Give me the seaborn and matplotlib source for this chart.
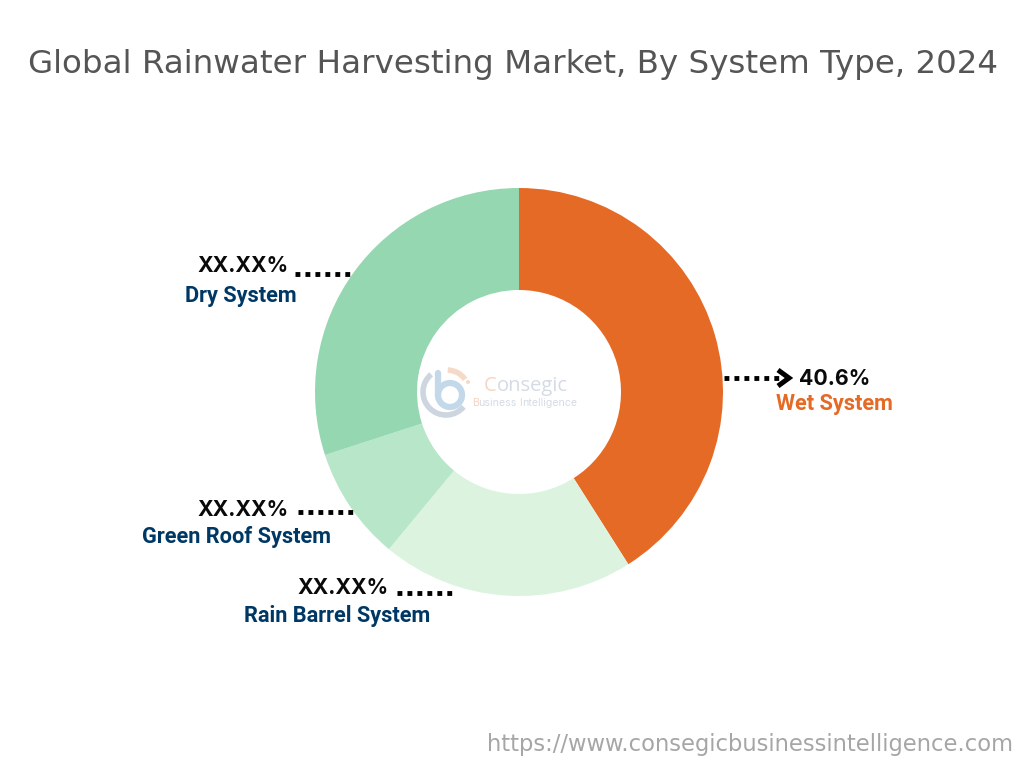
import matplotlib
matplotlib.use("Agg")
import matplotlib.pyplot as plt
from matplotlib.patches import Arc, Circle
import seaborn as sns

categories = ["Wet System", "Rain Barrel System", "Green Roof System", "Dry System"]
shares = [41.0, 20.0, 9.0, 30.0]
labels = ["40.6%", "XX.XX%", "XX.XX%", "XX.XX%"]
colors = ["#E56A26", "#DCF3DF", "#B7E6C8", "#95D7B1"]
title = "Global Rainwater Harvesting Market, By System Type, 2024"
url = "https://www.consegicbusinessintelligence.com"

sns.set_theme(style="white")
plt.rcParams["font.family"] = ["Inter", "DejaVu Sans"]

fig = plt.figure(figsize=(10.24, 7.68), dpi=100, facecolor="white")
ax = fig.add_axes([0, 0, 1, 1])
Y = lambda y: 768 - y

ax.pie(shares, colors=sns.color_palette(colors), startangle=90, counterclock=False,
       center=(519, Y(392)), radius=204, wedgeprops=dict(width=102, linewidth=0), frame=True)
ax.set_xlim(0, 1024)
ax.set_ylim(0, 768)
ax.set_aspect("equal")
ax.axis("off")

ax.text(512.5, Y(65), title, ha="center", va="center", fontsize=23.4, color="#555555",
        family=["DejaVu Sans"])
ax.text(1013, Y(744), url, ha="right", va="center", fontsize=16.3, color="#A6A6A6",
        family=["DejaVu Sans"])

pct_font = dict(fontsize=15.3, fontweight="bold", color="#0A0A0A", va="center")
cat_font = dict(fontsize=15.7, fontweight="bold", va="center", family=["Roboto", "DejaVu Sans"])
dots = dict(color="black", linewidth=3.5, linestyle=(0, (1, 1.05)), dash_capstyle="butt")

ax.text(799, Y(379), labels[0], ha="left", **pct_font)
ax.text(834, Y(404), categories[0], ha="center", color="#E56A26", **cat_font)
ax.plot([724, 784], [Y(378), Y(378)], **dots)
ax.plot([778, 789, 778], [Y(370), Y(378), Y(386)], color="black", linewidth=3.6,
        solid_joinstyle="miter", solid_capstyle="butt")

ax.text(289, Y(266), labels[3], ha="right", **pct_font)
ax.text(241, Y(296), categories[3], ha="center", color="#003865", **cat_font)
ax.plot([295, 350], [Y(274), Y(274)], **dots)

ax.text(289, Y(510), labels[2], ha="right", **pct_font)
ax.text(237, Y(537), categories[2], ha="center", color="#003865", **cat_font)
ax.plot([298, 353], [Y(512), Y(512)], **dots)

ax.text(389, Y(588), labels[1], ha="right", **pct_font)
ax.text(337, Y(616), categories[1], ha="center", color="#003865", **cat_font)
ax.plot([397, 453], [Y(593), Y(593)], **dots)

# faint watermark logo
ax.add_patch(Arc((446, Y(392)), 46, 46, theta1=130, theta2=320, color="#CDD5DF", linewidth=4))
ax.add_patch(Circle((450, Y(395)), 12, fill=False, edgecolor="#C3D9E9", linewidth=4.5))
ax.plot([438, 438], [Y(373), Y(395)], color="#C3D9E9", linewidth=4.5, solid_capstyle="round")
ax.add_patch(Arc((447, Y(392)), 44, 44, theta1=35, theta2=88, color="#F6D9C6", linewidth=4))
ax.add_patch(Circle((468, Y(382)), 2, color="#F6D9C6", linewidth=0))
serif_free = ["Open Sans", "DejaVu Sans"]
ax.text(484, Y(386), "C", fontsize=14.5, color="#F6D5C0", va="center", ha="left", family=serif_free)
ax.text(497, Y(386), "onsegic", fontsize=14.5, color="#D5DBE4", va="center", ha="left", family=serif_free)
ax.text(472, Y(403), "B", fontsize=7.6, color="#F6D5C0", va="center", ha="left")
ax.text(478, Y(403), "usiness", fontsize=7.6, color="#D5DBE4", va="center", ha="left")
ax.text(519, Y(403), "I", fontsize=7.6, color="#F6D5C0", va="center", ha="left")
ax.text(522, Y(403), "ntelligence", fontsize=7.6, color="#D5DBE4", va="center", ha="left")

fig.savefig("out.png", dpi=100, facecolor="white")
